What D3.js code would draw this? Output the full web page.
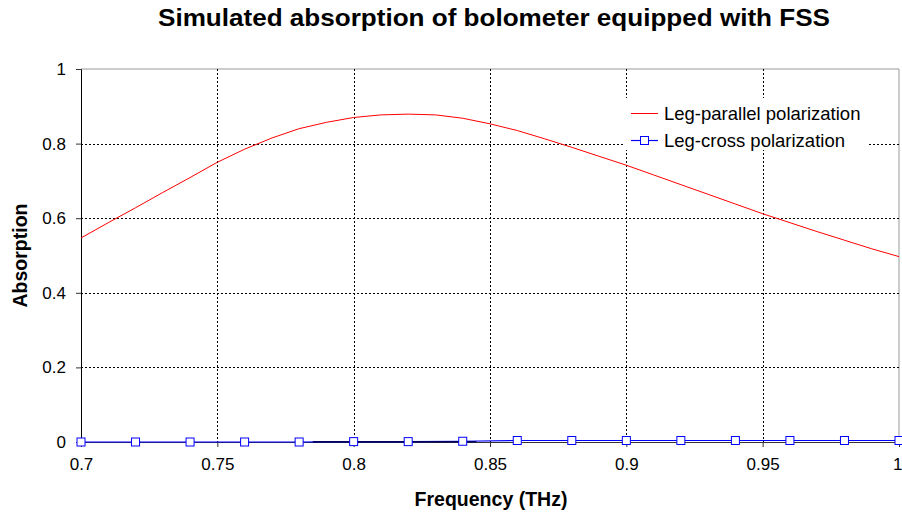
<!DOCTYPE html>
<html>
<head>
<meta charset="utf-8">
<script src="https://cdn.jsdelivr.net/npm/d3@7"></script>
<style>
  body { margin: 0; background: #fff; }
  svg { display: block; font-family: "Liberation Sans", Arial, sans-serif; }
</style>
</head>
<body>
<svg id="chart" width="902" height="515"></svg>
<script>
const title = "Simulated absorption of bolometer equipped with FSS";
const xLabel = "Frequency (THz)";
const yLabel = "Absorption";
const xTicks = [0.7, 0.75, 0.8, 0.85, 0.9, 0.95, 1];
const yTicks = [0, 0.2, 0.4, 0.6, 0.8, 1];

const parallelFreq = [0.70,0.71,0.72,0.73,0.74,0.75,0.76,0.77,0.78,0.79,0.80,0.81,0.82,0.83,0.84,0.85,0.86,0.87,0.88,0.89,0.90,0.91,0.92,0.93,0.94,0.95,0.96,0.97,0.98,0.99,1.00];
const parallelAbs  = [0.547,0.588,0.628,0.669,0.709,0.750,0.785,0.815,0.840,0.857,0.870,0.877,0.879,0.877,0.868,0.853,0.835,0.813,0.790,0.766,0.742,0.716,0.690,0.664,0.638,0.612,0.588,0.564,0.541,0.518,0.497];

const crossFreq = [0.70,0.72,0.74,0.76,0.78,0.80,0.82,0.84,0.86,0.88,0.90,0.92,0.94,0.96,0.98,1.00];
const crossAbs  = [0.000,0.000,0.000,0.000,0.000,0.001,0.001,0.002,0.004,0.004,0.004,0.004,0.004,0.004,0.004,0.004];

const darkSegFreq = [0.785, 0.845];
const darkSegAbs = [0.001, 0.001];

const seriesNames = ["Leg-parallel polarization", "Leg-cross polarization"];
const seriesColors = ["#ff0000", "#0000ff"];

const svg = d3.select("#chart");
const m = { left: 81, right: 3, top: 69, bottom: 73 };
const W = 902, H = 515;
const x = d3.scaleLinear().domain([0.7, 1]).range([m.left, W - m.right]);
const y = d3.scaleLinear().domain([0, 1]).range([H - m.bottom, m.top]);

// Title
svg.append("text").attr("x", 158).attr("y", 26).attr("text-anchor", "start")
  .attr("font-size", 24.5).attr("font-weight", "bold")
  .attr("textLength", 672).attr("lengthAdjust", "spacingAndGlyphs").text(title);

// Plot border (top/right)
svg.append("line").attr("x1", x(0.7)).attr("x2", x(1)).attr("y1", y(1)).attr("y2", y(1))
  .attr("stroke", "#999").attr("stroke-width", 1);
svg.append("line").attr("x1", x(1)).attr("x2", x(1)).attr("y1", y(1)).attr("y2", y(0))
  .attr("stroke", "#999").attr("stroke-width", 1);

// Gridlines
const grid = svg.append("g").attr("stroke", "#000").attr("stroke-width", 1).attr("stroke-dasharray", "2,2").attr("shape-rendering", "crispEdges");
xTicks.filter(t => t > 0.7 && t < 1).forEach(t => {
  grid.append("line").attr("x1", Math.round(x(t)) + 0.5).attr("x2", Math.round(x(t)) + 0.5).attr("y1", y(1)).attr("y2", y(0));
});
yTicks.filter(t => t > 0 && t < 1).forEach(t => {
  grid.append("line").attr("x1", x(0.7)).attr("x2", x(1)).attr("y1", Math.round(y(t)) + 0.5).attr("y2", Math.round(y(t)) + 0.5);
});

// Axes
const xAxis = d3.axisBottom(x).tickValues(xTicks).tickSize(5).tickPadding(11)
  .tickFormat(d => d3.format("")(+d.toFixed(2)));
const gx = svg.append("g").attr("transform", `translate(0,${y(0)})`).call(xAxis);
gx.select(".domain").attr("stroke", "#333");
gx.selectAll(".tick line").attr("stroke", "#333");
gx.selectAll("text").attr("font-size", 17).attr("fill", "#000").attr("font-family", "Liberation Sans, Arial, sans-serif");
gx.selectAll(".tick").filter(d => d === 1).select("text").attr("text-anchor", "end").attr("x", 3);

const yAxis = d3.axisLeft(y).tickValues(yTicks).tickSize(5).tickPadding(10)
  .tickFormat(d => d3.format("")(+d.toFixed(1)));
const gy = svg.append("g").attr("transform", `translate(${x(0.7)},0)`).call(yAxis);
gy.select(".domain").attr("stroke", "#000");
gy.selectAll(".tick line").attr("stroke", "#333");
gy.selectAll("text").attr("font-size", 17).attr("fill", "#000").attr("font-family", "Liberation Sans, Arial, sans-serif");

// Axis labels
svg.append("text").attr("x", 491).attr("y", 506).attr("text-anchor", "middle")
  .attr("font-size", 19.5).attr("font-weight", "bold").text(xLabel);
svg.append("text").attr("transform", `translate(27,${(y(0) + y(1)) / 2}) rotate(-90)`)
  .attr("text-anchor", "middle").attr("font-size", 19.5).attr("font-weight", "bold").text(yLabel);

// Lines
const line = d3.line().x(d => x(d[0])).y(d => y(d[1]));
const parData = parallelFreq.map((f, i) => [f, parallelAbs[i]]);
const crossData = crossFreq.map((f, i) => [f, crossAbs[i]]);
const darkData = darkSegFreq.map((f, i) => [f, darkSegAbs[i]]);

svg.append("path").datum(parData).attr("d", line).attr("fill", "none")
  .attr("stroke", seriesColors[0]).attr("stroke-width", 1);
svg.append("path").datum(crossData).attr("d", line).attr("fill", "none")
  .attr("stroke", seriesColors[1]).attr("stroke-width", 1.2);
svg.append("path").datum(darkData).attr("d", line).attr("fill", "none")
  .attr("stroke", "#000066").attr("stroke-width", 1.5);

svg.append("g").selectAll("rect").data(crossData).join("rect")
  .attr("x", d => x(d[0]) - 4).attr("y", d => y(d[1]) - 4)
  .attr("width", 8).attr("height", 8)
  .attr("fill", "#fff").attr("stroke", seriesColors[1]).attr("stroke-width", 1);

// Legend
const lg = svg.append("g");
lg.append("rect").attr("x", 624).attr("y", 98).attr("width", 244).attr("height", 52).attr("fill", "#fff");
lg.append("line").attr("x1", 631).attr("x2", 658).attr("y1", 113.5).attr("y2", 113.5)
  .attr("stroke", seriesColors[0]).attr("stroke-width", 1);
lg.append("text").attr("x", 664).attr("y", 120).attr("font-size", 18.5).text(seriesNames[0]);
lg.append("line").attr("x1", 631).attr("x2", 658).attr("y1", 140.5).attr("y2", 140.5)
  .attr("stroke", seriesColors[1]).attr("stroke-width", 1.2);
lg.append("rect").attr("x", 640.5).attr("y", 136.5).attr("width", 8).attr("height", 8)
  .attr("fill", "#fff").attr("stroke", seriesColors[1]);
lg.append("text").attr("x", 664).attr("y", 147).attr("font-size", 18.5).text(seriesNames[1]);
</script>
</body>
</html>
